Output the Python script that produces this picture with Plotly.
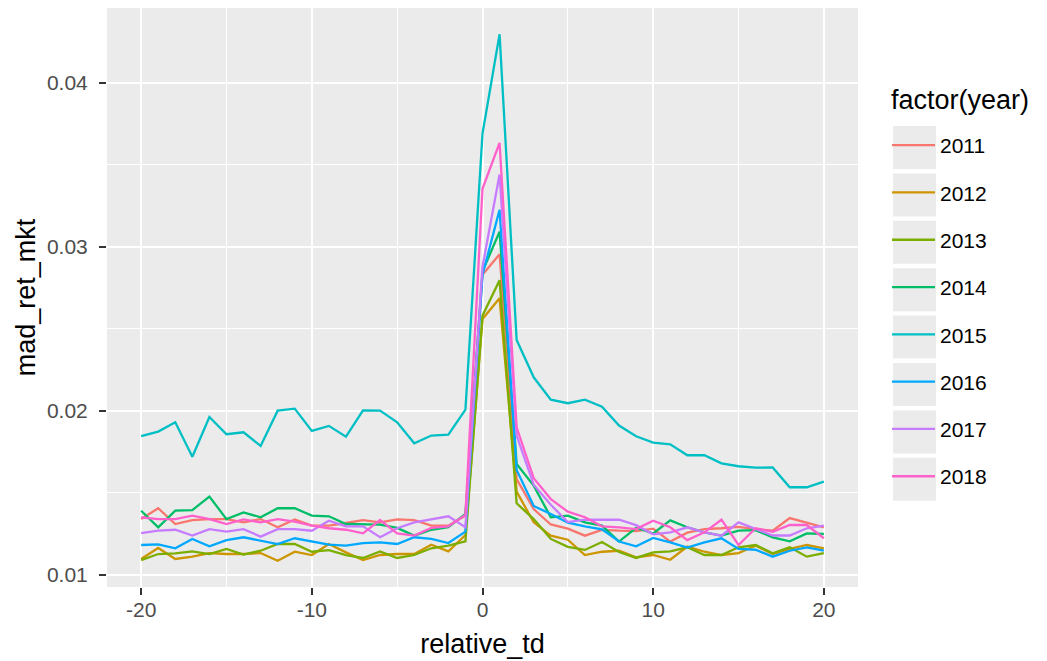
import plotly.graph_objects as go

relative_td = list(range(-20, 21))
years = ["2011", "2012", "2013", "2014", "2015", "2016", "2017", "2018"]
colors = ["#F8766D", "#CD9600", "#7CAE00", "#00BE67", "#00BFC4", "#00A9FF", "#C77CFF", "#FF61CC"]

y2011 = [0.01341, 0.01407, 0.01311, 0.01335, 0.01341, 0.01341, 0.01321, 0.01341, 0.01291, 0.01339,
         0.01301, 0.01301, 0.01317, 0.01335, 0.01321, 0.01339, 0.01335, 0.01301, 0.01301, 0.01362,
         0.0283, 0.02955, 0.01585, 0.01402, 0.01308, 0.01283, 0.0124, 0.01275, 0.0127, 0.01268,
         0.01283, 0.01204, 0.01258, 0.0128, 0.01285, 0.01293, 0.0128, 0.0127, 0.01347, 0.01321, 0.01291]
y2012 = [0.01098, 0.01165, 0.01098, 0.01112, 0.01134, 0.01128, 0.01128, 0.01134, 0.01087, 0.01142,
         0.01122, 0.01189, 0.01138, 0.01091, 0.01122, 0.01128, 0.01128, 0.01185, 0.01144, 0.01244,
         0.02561, 0.02687, 0.01508, 0.01321, 0.0124, 0.01215, 0.01122, 0.01142, 0.01148, 0.01108,
         0.01122, 0.01093, 0.01173, 0.01142, 0.01122, 0.01134, 0.01179, 0.01128, 0.01159, 0.01183, 0.01163]
y2013 = [0.01091, 0.01128, 0.01132, 0.01144, 0.01128, 0.01159, 0.01124, 0.01148, 0.01189, 0.01189,
         0.01142, 0.01152, 0.01122, 0.01104, 0.01144, 0.01104, 0.01122, 0.01163, 0.01179, 0.01205,
         0.02581, 0.02797, 0.01437, 0.01341, 0.0122, 0.01172, 0.01153, 0.01201, 0.0114, 0.01104,
         0.01138, 0.01144, 0.01169, 0.01122, 0.01122, 0.01169, 0.01183, 0.01132, 0.01169, 0.01112, 0.01134]
y2014 = [0.01392, 0.01291, 0.01392, 0.01396, 0.01478, 0.01341, 0.01382, 0.01352, 0.01407, 0.01407,
         0.01362, 0.01358, 0.01311, 0.01311, 0.01307, 0.01287, 0.0124, 0.01276, 0.01291, 0.01372,
         0.0285, 0.03093, 0.01677, 0.01545, 0.01352, 0.01362, 0.01321, 0.01301, 0.01204, 0.01288,
         0.01253, 0.01333, 0.01291, 0.0126, 0.0124, 0.0127, 0.01274, 0.0123, 0.01205, 0.01254, 0.0125]
y2015 = [0.01846, 0.01874, 0.01931, 0.01721, 0.01963, 0.01858, 0.0187, 0.01787, 0.02002, 0.02014,
         0.01878, 0.01909, 0.01843, 0.02004, 0.02002, 0.01931, 0.01803, 0.0185, 0.01856, 0.02008,
         0.0369, 0.04296, 0.02432, 0.02205, 0.02069, 0.02047, 0.02069, 0.02026, 0.01911, 0.01846,
         0.01807, 0.01797, 0.0173, 0.0173, 0.01681, 0.01663, 0.01654, 0.01656, 0.01535, 0.01535, 0.01569]
y2016 = [0.01183, 0.01187, 0.01163, 0.0122, 0.01175, 0.01213, 0.0123, 0.01209, 0.01189, 0.01224,
         0.01203, 0.01185, 0.01179, 0.01195, 0.01199, 0.01189, 0.0123, 0.0122, 0.01195, 0.01264,
         0.0283, 0.03226, 0.0164, 0.01421, 0.01372, 0.01319, 0.01296, 0.01278, 0.01204, 0.01175,
         0.01226, 0.01199, 0.01167, 0.01199, 0.01224, 0.01159, 0.01154, 0.01112, 0.01148, 0.01169, 0.01148]
y2017 = [0.01256, 0.0127, 0.01276, 0.0124, 0.0128, 0.01264, 0.0128, 0.01234, 0.0128, 0.0128,
         0.0127, 0.01331, 0.01297, 0.01297, 0.0123, 0.01285, 0.01321, 0.01341, 0.01358, 0.01291,
         0.0288, 0.03441, 0.0185, 0.0155, 0.01428, 0.01323, 0.01337, 0.01337, 0.01337, 0.01304,
         0.01248, 0.0126, 0.01291, 0.0126, 0.0124, 0.01321, 0.0128, 0.01241, 0.01241, 0.01285, 0.01301]
y2018 = [0.01352, 0.01341, 0.01341, 0.01362, 0.01341, 0.01311, 0.01339, 0.01321, 0.01341, 0.01325,
         0.01301, 0.01285, 0.01276, 0.01254, 0.01335, 0.01254, 0.0124, 0.01287, 0.01297, 0.01366,
         0.03354, 0.03634, 0.019, 0.0159, 0.01463, 0.01386, 0.01352, 0.01297, 0.01291, 0.0128,
         0.01331, 0.01291, 0.01213, 0.0126, 0.01337, 0.01183, 0.01285, 0.01264, 0.01305, 0.01305, 0.01224]
series = [y2011, y2012, y2013, y2014, y2015, y2016, y2017, y2018]

x_tickvals = [-20, -10, 0, 10, 20]
x_ticktext = ["-20", "-10", "0", "10", "20"]
y_tickvals = [0.01, 0.02, 0.03, 0.04]
y_ticktext = ["0.01", "0.02", "0.03", "0.04"]

FONT = "Liberation Sans, Arial, Helvetica, sans-serif"
OFF = 8                      # page body margin added by the browser
W, H = 1047 - OFF, 661 - OFF  # figure size
L, R, T, B = 107, 858, 8, 587  # panel edges in page px

fig = go.Figure()
for yr, col, ys in zip(years, colors, series):
    fig.add_trace(go.Scatter(x=relative_td, y=ys, mode="lines", name=yr,
                             legendgroup=yr,
                             line=dict(color=col, width=2.3)))


def px_to_paper_x(px):
    return (px - L) / (R - L)


def px_to_paper_y(py):
    return (B - py) / (B - T)


# legend key backgrounds (ggplot style)
shapes = []
key_top0, key_step, key_h = 126, 47.4, 43
for i in range(len(years)):
    y0 = key_top0 + i * key_step
    shapes.append(dict(type="rect", xref="paper", yref="paper",
                       x0=px_to_paper_x(893), x1=px_to_paper_x(936),
                       y0=px_to_paper_y(y0 + key_h), y1=px_to_paper_y(y0),
                       fillcolor="#EBEBEB", line=dict(width=0), layer="below"))

axis_common = dict(
    showgrid=True, gridcolor="white", gridwidth=2.4,
    zeroline=False, showline=False,
    ticks="outside", ticklen=7, tickwidth=2, tickcolor="#333333",
    tickfont=dict(family=FONT, size=21, color="#4D4D4D"),
    automargin=False,
)

fig.update_layout(
    width=W, height=H,
    margin=dict(l=L - OFF, r=W - (R - OFF), t=T - OFF, b=H - (B - OFF)),
    paper_bgcolor="white", plot_bgcolor="#EBEBEB",
    font=dict(family=FONT, color="black"),
    shapes=shapes,
    annotations=[dict(text="factor(year)", xref="paper", yref="paper",
                      x=px_to_paper_x(889), y=px_to_paper_y(100),
                      xanchor="left", yanchor="middle", showarrow=False,
                      font=dict(family=FONT, size=27, color="black"))],
    xaxis=dict(range=[-22, 22], tickmode="array", tickvals=x_tickvals, ticktext=x_ticktext,
               minor=dict(tickvals=[-15, -5, 5, 15], showgrid=True, gridcolor="white",
                          gridwidth=1.2, ticks=""),
               title=dict(text="relative_td", font=dict(family=FONT, size=27, color="black"),
                          standoff=13),
               ticklabelstandoff=-3,
               **axis_common),
    yaxis=dict(range=[0.00927, 0.04456], tickmode="array", tickvals=y_tickvals, ticktext=y_ticktext,
               minor=dict(tickvals=[0.015, 0.025, 0.035], showgrid=True, gridcolor="white",
                          gridwidth=1.2, ticks=""),
               title=dict(text="mad_ret_mkt", font=dict(family=FONT, size=27, color="black"),
                          standoff=3),
               ticklabelstandoff=7,
               **axis_common),
    legend=dict(font=dict(family=FONT, size=21, color="black"),
                x=px_to_paper_x(887), xanchor="left",
                y=px_to_paper_y(125), yanchor="top",
                bgcolor="rgba(0,0,0,0)", tracegroupgap=17, itemwidth=43),
)

fig.write_html("out.html")
